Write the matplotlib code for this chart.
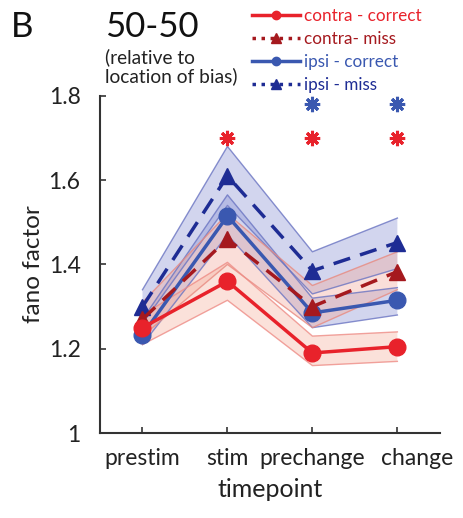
import matplotlib
matplotlib.use("Agg")
import matplotlib.pyplot as plt
import matplotlib.transforms as mtransforms
from matplotlib.lines import Line2D
import numpy as np

plt.rcParams['font.family'] = ['Lato', 'DejaVu Sans']

timepoints = ["prestim", "stim", "prechange", "change"]
x = np.arange(1, 5)

contra_correct = [1.25, 1.36, 1.19, 1.205]
contra_correct_lo = [1.21, 1.315, 1.16, 1.17]
contra_correct_hi = [1.28, 1.405, 1.23, 1.24]

contra_miss = [1.27, 1.46, 1.30, 1.383]
contra_miss_lo = [1.23, 1.40, 1.25, 1.34]
contra_miss_hi = [1.31, 1.52, 1.35, 1.43]

ipsi_correct = [1.233, 1.515, 1.285, 1.315]
ipsi_correct_lo = [1.21, 1.47, 1.25, 1.28]
ipsi_correct_hi = [1.27, 1.565, 1.32, 1.345]

ipsi_miss = [1.30, 1.61, 1.385, 1.452]
ipsi_miss_lo = [1.26, 1.54, 1.33, 1.39]
ipsi_miss_hi = [1.34, 1.68, 1.43, 1.51]

red_star_x = [2, 3, 4]
red_star_y = [1.70, 1.70, 1.70]
blue_star_x = [3, 4]
blue_star_y = [1.78, 1.78]

legend_labels = ["contra - correct", "contra- miss", "ipsi - correct", "ipsi - miss"]

c_red = "#E8222B"
c_dred = "#A5191E"
c_blue = "#3A58B0"
c_dblue = "#1E2C94"

fig = plt.figure(figsize=(4.63, 5.18), dpi=100)
ax = fig.add_axes([0.216, 0.164, 0.734, 0.651])

bands = [
    (ipsi_miss_lo, ipsi_miss_hi, "#8A93D4", "#6A74C2"),
    (ipsi_correct_lo, ipsi_correct_hi, "#8A93D4", "#6A74C2"),
    (contra_miss_lo, contra_miss_hi, "#F2A99C", "#E88A80"),
    (contra_correct_lo, contra_correct_hi, "#F6B29F", "#EE8C86"),
]
for lo, hi, fc, ec in bands:
    ax.fill_between(x, lo, hi, facecolor=fc, alpha=0.38, edgecolor="none", zorder=1)
    ax.plot(x, lo, color=ec, lw=1.0, alpha=0.8, zorder=1.5)
    ax.plot(x, hi, color=ec, lw=1.0, alpha=0.8, zorder=1.5)

ax.plot(x, contra_correct, color=c_red, lw=2.5, marker="o", ms=12, zorder=5)
ax.plot(x, contra_miss, color=c_dred, lw=2.5, ls=(0, (5, 3)), marker="^", ms=12, zorder=4)
ax.plot(x, ipsi_correct, color=c_blue, lw=2.5, marker="o", ms=12, zorder=3)
ax.plot(x, ipsi_miss, color=c_dblue, lw=2.5, ls=(0, (5, 3)), marker="^", ms=12, zorder=2)

ax.plot(red_star_x, red_star_y, ls="none", marker=(8, 2, 0), ms=11, mew=2.2, color=c_red, zorder=6)
ax.plot(blue_star_x, blue_star_y, ls="none", marker=(8, 2, 0), ms=11, mew=2.2, color=c_blue, zorder=6)

ax.set_xlim(0.5, 4.5)
ax.set_ylim(1.0, 1.8)
ax.set_xticks(x)
ax.set_xticklabels(timepoints)
ax.set_yticks([1.0, 1.2, 1.4, 1.6, 1.8])
ax.set_yticklabels(["1", "1.2", "1.4", "1.6", "1.8"])
ax.tick_params(direction="in", length=4, width=1.2, labelsize=16.5, colors="#333333")
ax.tick_params(axis="x", pad=11)
ax.tick_params(axis="y", pad=14)
for lab in ax.get_xticklabels() + ax.get_yticklabels():
    lab.set_color("#222222")
# the last category label sits a bit right of its tick in the original
last = ax.get_xticklabels()[-1]
last.set_transform(last.get_transform() +
                   mtransforms.ScaledTranslation(0.2, 0, fig.dpi_scale_trans))
ax.spines["top"].set_visible(False)
ax.spines["right"].set_visible(False)
for s in ["left", "bottom"]:
    ax.spines[s].set_linewidth(1.5)
    ax.spines[s].set_color("#333333")
ax.set_xlabel("timepoint", fontsize=18, color="#222222", labelpad=6)
ax.set_ylabel("fano factor", fontsize=17.5, color="#222222", labelpad=3)

fig.text(0.024, 0.978, "B", fontsize=25, va="top", ha="left", color="#111111")
fig.text(0.226, 0.978, "50-50", fontsize=25, va="top", ha="left", color="#111111")
fig.text(0.226, 0.906, "(relative to\nlocation of bias)", fontsize=13.8, va="top", ha="left",
         color="#222222", linespacing=1.05)

handles = [
    Line2D([], [], color=c_red, lw=2.5, marker="o", ms=6),
    Line2D([], [], color=c_dred, lw=2.5, ls=(0, (1, 1.6)), marker="^", ms=7),
    Line2D([], [], color=c_blue, lw=2.5, marker="o", ms=6),
    Line2D([], [], color=c_dblue, lw=2.5, ls=(0, (1, 1.6)), marker="^", ms=7),
]
leg = fig.legend(handles=handles, labels=legend_labels, loc="upper left",
                 bbox_to_anchor=(0.545, 0.984),
                 frameon=False, fontsize=12.3, handlelength=2.8, handletextpad=0.2,
                 labelspacing=0.4, borderaxespad=0.0, borderpad=0.0)
for txt, col in zip(leg.get_texts(), [c_red, c_dred, c_blue, c_dblue]):
    txt.set_color(col)

fig.savefig("out.png", dpi=100)
